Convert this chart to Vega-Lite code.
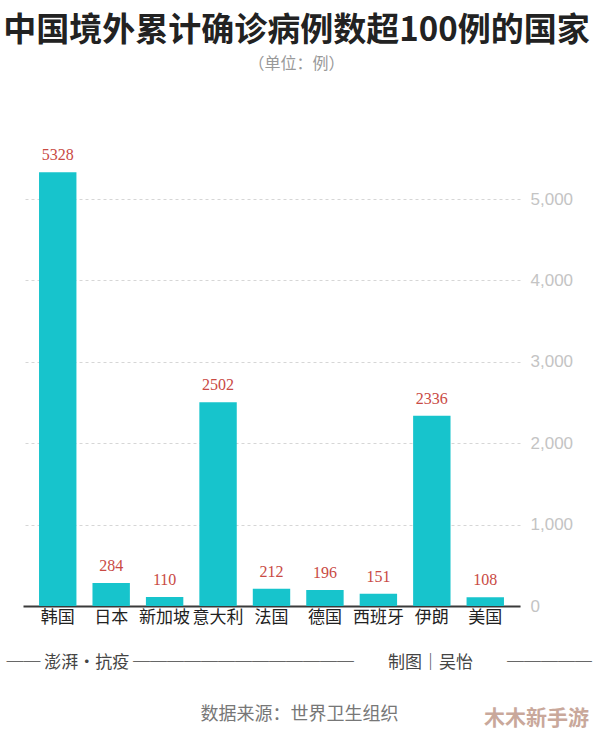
{
  "$schema": "https://vega.github.io/schema/vega-lite/v6.json",
  "autosize": {"type": "none"},
  "width": 497,
  "height": 466,
  "padding": {"left": 23, "top": 140, "right": 74, "bottom": 131},
  "background": "white",
  "config": {"view": {"stroke": null}},
  "title": {
    "text": "中国境外累计确诊病例数超100例的国家",
    "subtitle": "（单位：例）",
    "anchor": "middle",
    "frame": "group",
    "dx": 25,
    "offset": 68,
    "font": "Noto Sans CJK SC",
    "fontSize": 33,
    "fontWeight": "bold",
    "color": "#222222",
    "subtitleFont": "Noto Sans CJK SC",
    "subtitleFontSize": 16,
    "subtitleColor": "#999999",
    "subtitlePadding": 8
  },
  "data": {
    "values": [
      {"country": "韩国", "cases": 5328},
      {"country": "日本", "cases": 284},
      {"country": "新加坡", "cases": 110},
      {"country": "意大利", "cases": 2502},
      {"country": "法国", "cases": 212},
      {"country": "德国", "cases": 196},
      {"country": "西班牙", "cases": 151},
      {"country": "伊朗", "cases": 2336},
      {"country": "美国", "cases": 108}
    ]
  },
  "encoding": {
    "y": {
      "field": "cases",
      "type": "quantitative",
      "scale": {"domain": [0, 5725], "nice": false},
      "axis": {
        "orient": "right",
        "values": [0, 1000, 2000, 3000, 4000, 5000],
        "format": ",d",
        "labelFont": "Liberation Sans",
        "labelFontSize": 17,
        "labelColor": "#c4c4c4",
        "labelPadding": 10,
        "ticks": false,
        "domain": false,
        "grid": true,
        "gridColor": "#d6d6d6",
        "gridDash": [3, 3],
        "gridWidth": 1,
        "title": "── 澎湃·抗疫 ─────────────　　制图｜吴怡　　─────",
        "titleAngle": 0,
        "titleAlign": "left",
        "titleBaseline": "middle",
        "titleX": -514,
        "titleY": 522,
        "titleFont": "Noto Sans CJK SC",
        "titleFontSize": 17,
        "titleFontWeight": "normal",
        "titleColor": "#444444"
      }
    }
  },
  "layer": [
    {
      "mark": {"type": "bar", "color": "#17c4cc"},
      "encoding": {
        "x": {
          "field": "country",
          "type": "nominal",
          "sort": null,
          "scale": {"paddingInner": 0.3, "paddingOuter": 0.3},
          "axis": {
            "orient": "bottom",
            "labelAngle": 0,
            "labelFont": "Noto Sans CJK SC",
            "labelFontSize": 17,
            "labelColor": "#222222",
            "labelPadding": 3,
            "ticks": false,
            "grid": false,
            "domain": true,
            "domainColor": "#3a3a3a",
            "domainWidth": 2,
            "title": "数据来源：世界卫生组织",
            "titleFont": "Noto Sans CJK SC",
            "titleFontSize": 18,
            "titleFontWeight": "normal",
            "titleColor": "#777777",
            "titleAlign": "center",
            "titleBaseline": "middle",
            "titleX": 276,
            "titleY": 108
          }
        }
      }
    },
    {
      "mark": {
        "type": "text",
        "baseline": "bottom",
        "dy": -9,
        "font": "Liberation Serif",
        "fontSize": 16,
        "color": "#c94a44"
      },
      "encoding": {
        "x": {
          "field": "country",
          "type": "nominal",
          "sort": null,
          "axis": {
            "orient": "bottom",
            "labels": false,
            "ticks": false,
            "domain": false,
            "grid": false,
            "title": "木木新手游",
            "titleFont": "Noto Sans CJK SC",
            "titleFontSize": 21,
            "titleFontWeight": "bold",
            "titleColor": "#c9a89b",
            "titleAlign": "center",
            "titleBaseline": "middle",
            "titleX": 513,
            "titleY": 112
          }
        },
        "text": {"field": "cases", "type": "quantitative", "format": "d"}
      }
    }
  ],
  "resolve": {"axis": {"x": "independent"}}
}
